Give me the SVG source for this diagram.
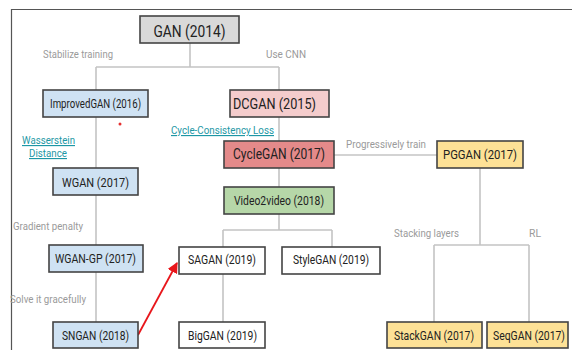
<svg xmlns="http://www.w3.org/2000/svg" width="572" height="350" viewBox="0 0 572 350">
<style>
.box{stroke:#444;stroke-width:1.6}
.t{font-family:Roboto,"Liberation Sans",sans-serif;fill:#222;text-anchor:middle}
.lbl{font-family:Roboto,"Liberation Sans",sans-serif;fill:#9a9a9a;font-size:11.5px}
.lnk{font-family:Roboto,"Liberation Sans",sans-serif;fill:#1d97a5;font-size:11.5px;text-decoration:underline}
.c{stroke:#c4c4c4;stroke-width:1.6;fill:none}
.blue{fill:#cfe2f3}.pink{fill:#f4cccc}.red{fill:#e48a8a}.green{fill:#b6d7a8}.yellow{fill:#fde196}.gray{fill:#d9d9d9}.white{fill:#fff}
</style>
<defs>
<marker id="ah" viewBox="0 0 10 10" refX="9" refY="5" markerWidth="6" markerHeight="6" orient="auto" markerUnits="strokeWidth">
<path d="M0,0 L10,5 L0,10 z" fill="#e8161b"/>
</marker>
</defs>
<rect width="572" height="350" fill="#fff"/>
<g id="frame" stroke="#555" stroke-width="1.2">
<line x1="11" y1="9.5" x2="572" y2="9.5"/>
<line x1="11.5" y1="9" x2="11.5" y2="350"/>
</g>
<g id="connectors">
<path class="c" d="M190,43 V67 M96,67 H279 M96,67 V90 M279,67 V90"/>
<path class="c" d="M96,117 V168 M96,195 V245 M96,272 V322"/>
<path class="c" d="M279,117 V141 M279,168 V187 M279,214 V230 M223,230 H332 M223,230 V247 M332,230 V247 M223,274 V322"/>
<path class="c" d="M334,155 H437"/>
<path class="c" d="M480,168 V245 M434,245 H529 M434,245 V322 M529,245 V322"/>
<line x1="138" y1="335" x2="177" y2="263" stroke="#e8161b" stroke-width="1.8" marker-end="url(#ah)"/>
</g>
<g id="edge-labels">
<text class="lbl" x="43" y="58" textLength="70" lengthAdjust="spacingAndGlyphs">Stabilize training</text>
<text class="lbl" x="266" y="58" textLength="40" lengthAdjust="spacingAndGlyphs">Use CNN</text>
<text class="lnk" x="22" y="144" textLength="53" lengthAdjust="spacingAndGlyphs">Wasserstein</text>
<text class="lnk" x="29" y="157" textLength="38" lengthAdjust="spacingAndGlyphs">Distance</text>
<text class="lnk" x="171" y="134" textLength="103" lengthAdjust="spacingAndGlyphs">Cycle-Consistency Loss</text>
<text class="lbl" x="346" y="148" textLength="80" lengthAdjust="spacingAndGlyphs">Progressively train</text>
<text class="lbl" x="13" y="230" textLength="70" lengthAdjust="spacingAndGlyphs">Gradient penalty</text>
<text class="lbl" x="10" y="303" textLength="76" lengthAdjust="spacingAndGlyphs">Solve it gracefully</text>
<text class="lbl" x="394" y="237" textLength="65" lengthAdjust="spacingAndGlyphs">Stacking layers</text>
<text class="lbl" x="529" y="237" textLength="12" lengthAdjust="spacingAndGlyphs">RL</text>
</g>
<circle cx="120" cy="124" r="1.5" fill="#e53030"/>
<g id="gan"><rect class="box gray" x="140" y="16" width="99" height="27"/><text class="t" x="189.5" y="37" font-size="17" textLength="72" lengthAdjust="spacingAndGlyphs">GAN (2014)</text></g>
<g id="improvedgan"><rect class="box blue" x="43" y="90" width="105" height="27"/><text class="t" x="95.5" y="108" font-size="12.5" textLength="91" lengthAdjust="spacingAndGlyphs">ImprovedGAN (2016)</text></g>
<g id="dcgan"><rect class="box pink" x="230" y="90" width="99" height="27"/><text class="t" x="274.5" y="109" font-size="14.5" textLength="83" lengthAdjust="spacingAndGlyphs">DCGAN (2015)</text></g>
<g id="cyclegan"><rect class="box red" x="224" y="141" width="110" height="27"/><text class="t" x="279" y="159" font-size="15" textLength="92" lengthAdjust="spacingAndGlyphs">CycleGAN (2017)</text></g>
<g id="pggan"><rect class="box yellow" x="437" y="141" width="86" height="27"/><text class="t" x="480" y="159" font-size="13" textLength="74" lengthAdjust="spacingAndGlyphs">PGGAN (2017)</text></g>
<g id="wgan"><rect class="box blue" x="53" y="168" width="85" height="27"/><text class="t" x="95.5" y="187" font-size="13" textLength="67" lengthAdjust="spacingAndGlyphs">WGAN (2017)</text></g>
<g id="video2video"><rect class="box green" x="224" y="187" width="110" height="27"/><text class="t" x="279" y="205" font-size="12.5" textLength="90" lengthAdjust="spacingAndGlyphs">Video2video (2018)</text></g>
<g id="wgangp"><rect class="box blue" x="49" y="245" width="94" height="27"/><text class="t" x="95.5" y="263" font-size="13" textLength="81" lengthAdjust="spacingAndGlyphs">WGAN-GP (2017)</text></g>
<g id="sagan"><rect class="box white" x="179" y="247" width="86" height="27"/><text class="t" x="222" y="264" font-size="13" textLength="68" lengthAdjust="spacingAndGlyphs">SAGAN (2019)</text></g>
<g id="stylegan"><rect class="box white" x="282" y="247" width="98" height="27"/><text class="t" x="331" y="264" font-size="13" textLength="76" lengthAdjust="spacingAndGlyphs">StyleGAN (2019)</text></g>
<g id="sngan"><rect class="box blue" x="53" y="322" width="85" height="26"/><text class="t" x="95.5" y="340" font-size="13" textLength="67" lengthAdjust="spacingAndGlyphs">SNGAN (2018)</text></g>
<g id="biggan"><rect class="box white" x="179" y="322" width="86" height="26"/><text class="t" x="222.5" y="340" font-size="13" textLength="69" lengthAdjust="spacingAndGlyphs">BigGAN (2019)</text></g>
<g id="stackgan"><rect class="box yellow" x="387" y="322" width="95" height="26"/><text class="t" x="434" y="340" font-size="13" textLength="80" lengthAdjust="spacingAndGlyphs">StackGAN (2017)</text></g>
<g id="seqgan"><rect class="box yellow" x="487" y="322" width="81" height="26"/><text class="t" x="529" y="340" font-size="13" textLength="72" lengthAdjust="spacingAndGlyphs">SeqGAN (2017)</text></g>
</svg>
